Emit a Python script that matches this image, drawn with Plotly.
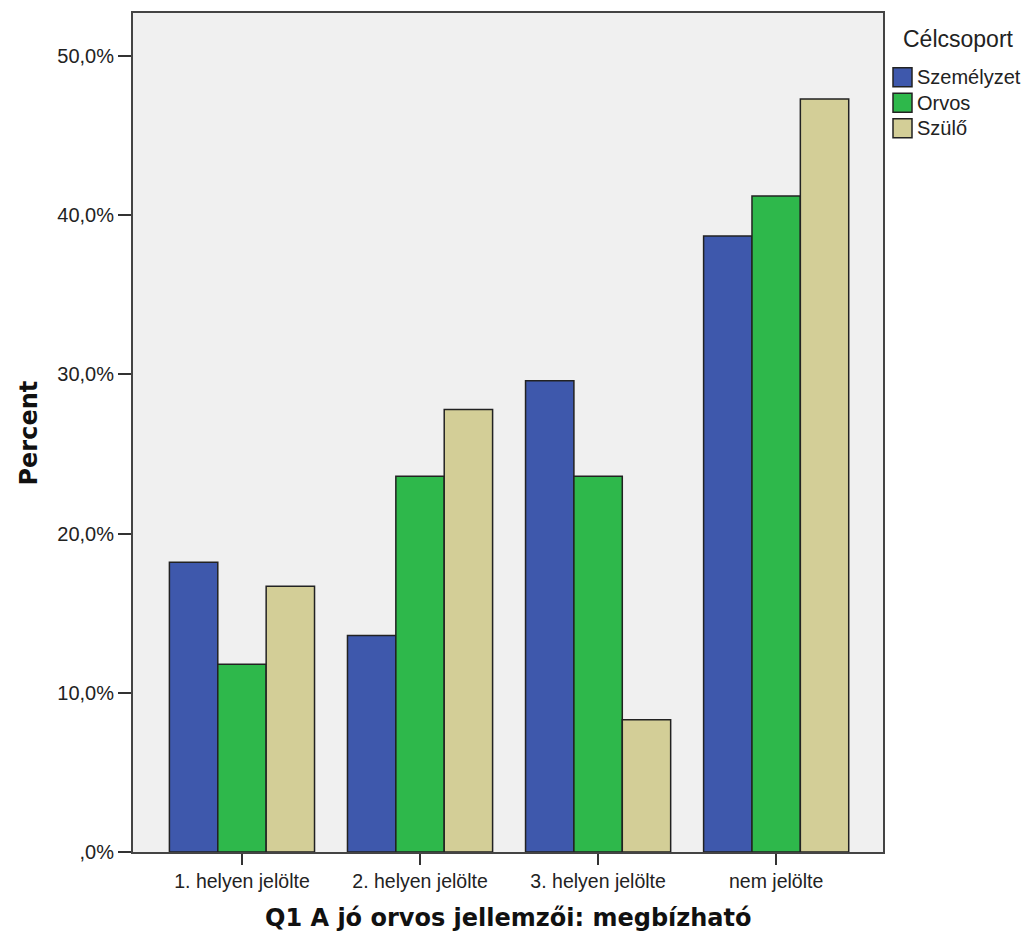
import plotly.graph_objects as go

categories = ["1. helyen jelölte", "2. helyen jelölte", "3. helyen jelölte", "nem jelölte"]
szemelyzet = [18.2, 13.6, 29.6, 38.7]
orvos = [11.8, 23.6, 23.6, 41.2]
szulo = [16.7, 27.8, 8.3, 47.3]
series_names = ["Személyzet", "Orvos", "Szülő"]
colors = ["#3E58AC", "#2EB84B", "#D3CE97"]
y_tickvals = [0, 10, 20, 30, 40, 50]
y_ticktext = [",0%", "10,0%", "20,0%", "30,0%", "40,0%", "50,0%"]

# plot-area pixel geometry (page coordinates) used for legend/title placement
PL, PR, PT, PB = 133, 883, 11, 852


def px_x(p):
    return (p - PL) / (PR - PL)


def px_y(p):
    return (PB - p) / (PB - PT)


fig = go.Figure()
for name, vals, col in zip(series_names, [szemelyzet, orvos, szulo], colors):
    fig.add_trace(go.Bar(
        x=categories, y=vals, name=name, showlegend=False,
        marker=dict(color=col, line=dict(color="#222", width=1.5)),
    ))

sans = "Liberation Sans, Arial, sans-serif"
bold = "DejaVu Sans, Verdana, sans-serif"

# manual legend
shapes = []
annotations = []
annotations.append(dict(
    text="Célcsoport", x=px_x(901), y=px_y(37), xref="paper", yref="paper",
    xanchor="left", yanchor="middle", showarrow=False,
    font=dict(size=23, family=sans, color="#222"),
))
centers = [75.5, 101, 126.5]
for name, col, c in zip(series_names, colors, centers):
    shapes.append(dict(
        type="rect", xref="paper", yref="paper",
        x0=px_x(893), x1=px_x(912), y0=px_y(c + 9.5), y1=px_y(c - 9.5),
        fillcolor=col, line=dict(color="#222", width=1.5),
    ))
    annotations.append(dict(
        text=name, x=px_x(915), y=px_y(c), xref="paper", yref="paper",
        xanchor="left", yanchor="middle", showarrow=False,
        font=dict(size=20, family=sans, color="#222"),
    ))

# axis titles
annotations.append(dict(
    text="<b>Q1 A jó orvos jellemzői: megbízható</b>", x=0.5, y=px_y(918),
    xref="paper", yref="paper", xanchor="center", yanchor="middle", showarrow=False,
    font=dict(size=24, family=bold, color="#111"),
))
annotations.append(dict(
    text="<b>Percent</b>", x=px_x(28), y=0.5, textangle=-90,
    xref="paper", yref="paper", xanchor="center", yanchor="middle", showarrow=False,
    font=dict(size=24, family=bold, color="#111"),
))

fig.update_layout(
    width=1021, height=934,
    barmode="group", bargap=0.185, bargroupgap=0,
    plot_bgcolor="#F0F0F0", paper_bgcolor="white",
    margin=dict(l=125, r=146, t=3, b=90),
    font=dict(family=sans, color="#222"),
    showlegend=False,
    shapes=shapes,
    annotations=annotations,
    xaxis=dict(
        range=[-0.612, 3.6],
        showline=True, linecolor="#444", linewidth=2, mirror=True,
        ticks="outside", ticklen=11, tickcolor="#333", tickwidth=1.5,
        tickfont=dict(size=19.5, family=sans, color="#222"),
        showgrid=False,
    ),
    yaxis=dict(
        range=[0, 52.7],
        tickvals=y_tickvals, ticktext=y_ticktext,
        showline=True, linecolor="#444", linewidth=2, mirror=True,
        ticks="outside", ticklen=13, tickcolor="#333", tickwidth=1.5,
        tickfont=dict(size=20, family=sans, color="#222"),
        showgrid=False, zeroline=False,
    ),
)

fig.write_html("out.html")
